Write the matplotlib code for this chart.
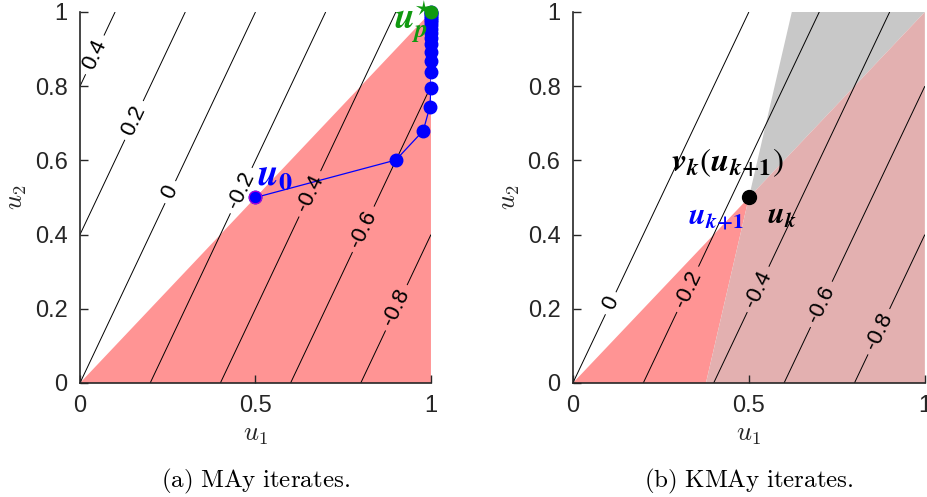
import numpy as np
import matplotlib
matplotlib.use('Agg')
import matplotlib.pyplot as plt

plt.rcParams.update({
    "font.family": "sans-serif",
    "font.sans-serif": ["Liberation Sans", "DejaVu Sans"],
    "mathtext.fontset": "cm",
    "axes.edgecolor": "#262626",
    "xtick.color": "#262626",
    "ytick.color": "#262626",
})

# objective contours: f(u) = u2/2 - u1
levels_a = [-0.8, -0.6, -0.4, -0.2, 0.0, 0.2, 0.4]
levels_b = [-0.8, -0.6, -0.4, -0.2, 0.0]
label_pos_a = [(0.043, 0.884), (0.151, 0.709), (0.256, 0.515), (0.456, 0.52),
               (0.65, 0.512), (0.812, 0.412), (0.903, 0.202)]
label_pos_b = [(0.105, 0.216), (0.332, 0.25), (0.531, 0.25), (0.71, 0.21), (0.872, 0.137)]

# feasible set (red) and cone (gray)
feas_x = [0, 1, 1]
feas_y = [0, 1, 0]
red_x = [0, 0.378, 0.5]
red_y = [0, 0, 0.5]
gray_x = [0.5, 0.622, 1]
gray_y = [0.5, 1, 1]
overlap_x = [0.378, 1, 1, 0.5]
overlap_y = [0, 0, 1, 0.5]

# MAy iterates
it_u1 = [0.5, 0.9, 0.978, 0.997, 1.0, 1.0, 1.0, 1.0, 1.0, 1.0, 1.0, 1.0, 1.0,
         1.0, 1.0, 1.0, 1.0, 1.0, 1.0, 1.0]
it_u2 = [0.5, 0.601, 0.68, 0.745, 0.796, 0.837, 0.868, 0.893, 0.913, 0.93,
         0.944, 0.955, 0.964, 0.972, 0.979, 0.985, 0.99, 0.994, 0.997, 1.0]
u_star = (1.0, 1.0)
u_k = (0.5, 0.5)

RED = "#FF9494"
GRAY = "#C8C8C8"
OVER = "#E3B0B0"
GREEN = "#109910"

fig = plt.figure(figsize=(9.27, 4.97), dpi=100)
ax1 = fig.add_axes([0.0863, 0.2294, 0.3786, 0.7465])
ax2 = fig.add_axes([0.618, 0.2294, 0.3797, 0.7465])

g = np.linspace(0, 1, 201)
U1, U2 = np.meshgrid(g, g)
Z = U2 / 2 - U1


def fmt(v):
    v = round(v, 1)
    return "0" if v == 0 else f"{v:g}"


def style(ax, caption):
    ax.set_xlim(0, 1)
    ax.set_ylim(0, 1)
    ax.set_xticks([0, 0.5, 1])
    ax.set_xticklabels(["0", "0.5", "1"])
    ax.set_yticks([0, 0.2, 0.4, 0.6, 0.8, 1])
    ax.set_yticklabels(["0", "0.2", "0.4", "0.6", "0.8", "1"])
    ax.tick_params(direction="in", length=6, width=1.0, labelsize=17, pad=9)
    for s in ["top", "right"]:
        ax.spines[s].set_visible(False)
    for s in ["left", "bottom"]:
        ax.spines[s].set_linewidth(1.2)
    ax.set_xlabel(r"$u_1$", fontsize=19, color="#262626", labelpad=4)
    ax.set_ylabel(r"$u_2$", fontsize=19, color="#262626", labelpad=4)
    ax.text(0.5, -0.265, caption, transform=ax.transAxes, ha="center", va="center",
            fontsize=18)


def bold(s, ax, x, y, color, size, **kw):
    ax.text(x, y, s, color=color, fontsize=size, math_fontfamily="stix", zorder=5, **kw)


# (a)
ax1.fill(feas_x, feas_y, color=RED, lw=0, zorder=1)
cs = ax1.contour(U1, U2, Z, levels=levels_a, colors="k", linewidths=0.7,
                 linestyles="solid", zorder=2)
ax1.clabel(cs, manual=label_pos_a, fmt=fmt, inline=True, fontsize=16, inline_spacing=6)
ax1.plot(it_u1, it_u2, "-", color="blue", lw=0.9, zorder=3)
ax1.plot(it_u1, it_u2, "o", color="blue", ms=9, mec="blue", zorder=4, clip_on=False)
ax1.plot(it_u1[0], it_u2[0], "o", color="blue", ms=9, mec="#CC00CC", mew=0.7, zorder=4)
bold(r"$\mathbfit{u}_{\mathbfit{p}}^{\star}$", ax1, 0.895, 0.955, GREEN, 26, va="baseline", ha="left")
ax1.plot(*u_star, "o", color=GREEN, ms=9, zorder=6, clip_on=False)
bold(r"$\mathbfit{u}_{\mathbf{0}}$", ax1, 0.505, 0.535, "blue", 27, va="baseline", ha="left")
style(ax1, r"$\mathrm{(a)\ MAy\ iterates.}$")

# (b)
ax2.fill(red_x, red_y, color=RED, lw=0, zorder=1)
ax2.fill(gray_x, gray_y, color=GRAY, lw=0, zorder=1)
ax2.fill(overlap_x, overlap_y, color=OVER, lw=0, zorder=1)
cs2 = ax2.contour(U1, U2, Z, levels=levels_b, colors="k", linewidths=0.7,
                  linestyles="solid", zorder=2)
ax2.clabel(cs2, manual=label_pos_b, fmt=fmt, inline=True, fontsize=16, inline_spacing=6)
ax2.plot(*u_k, "o", color="k", ms=10, zorder=4)
bold(r"$\mathbfit{v}_{\mathbfit{k}}(\mathbfit{u}_{\mathbfit{k}\mathbf{+1}})$", ax2,
     0.44, 0.593, "k", 24, ha="center", va="center")
bold(r"$\mathbfit{u}_{\mathbfit{k}\mathbf{+1}}$", ax2, 0.405, 0.447, "blue", 22,
     ha="center", va="center")
bold(r"$\mathbfit{u}_{\mathbfit{k}}$", ax2, 0.595, 0.45, "k", 22, ha="center", va="center")
style(ax2, r"$\mathrm{(b)\ KMAy\ iterates.}$")

fig.savefig("out.png", dpi=100)
